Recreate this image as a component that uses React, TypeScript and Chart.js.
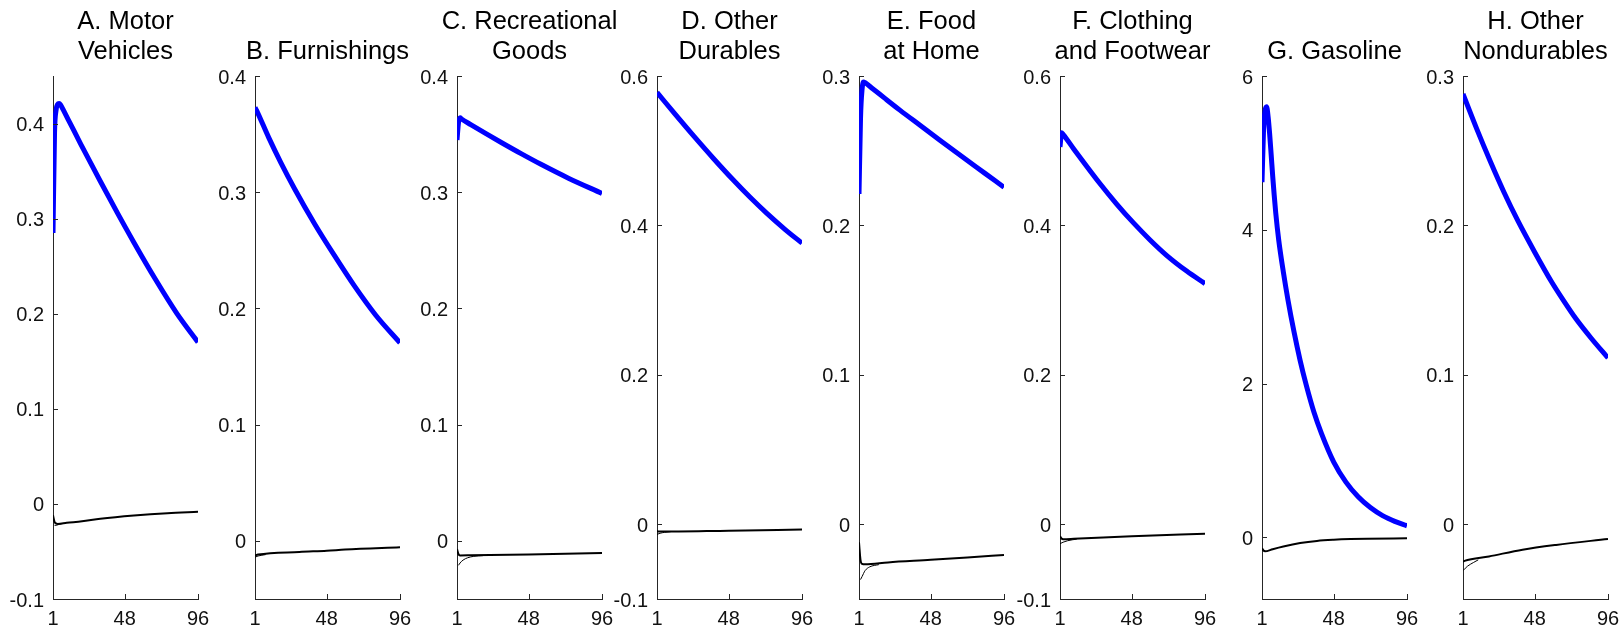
import React, { useEffect, useRef } from 'react';
import { Chart, registerables } from 'chart.js';

Chart.register(...registerables);

// ---------------- data ----------------
const xTicks = [1, 48, 96];

// A. Motor Vehicles
const titleA = ['A. Motor', 'Vehicles'];
const yTicksA = [-0.1, 0, 0.1, 0.2, 0.3, 0.4];
const yRangeA = [-0.1, 0.45];
const tBlueA = [1, 2, 3, 4, 5, 6, 8, 12, 19, 26, 32, 43, 54, 68, 82, 96];
const blueA = [0.285, 0.39, 0.414, 0.42, 0.421, 0.4195, 0.4135, 0.401, 0.379, 0.3575, 0.3393, 0.3066, 0.275, 0.2365, 0.2007, 0.17];
const tMainA = [1, 2, 3, 4, 10, 20, 32, 54, 76, 96];
const mainA = [-0.012, -0.019, -0.0205, -0.021, -0.0199, -0.0183, -0.0157, -0.0123, -0.0098, -0.0083];
const tLowA = [2, 3, 5, 8];
const lowA = [-0.0225, -0.0225, -0.0215, -0.0204];

// B. Furnishings
const titleB = ['', 'B. Furnishings'];
const yTicksB = [0, 0.1, 0.2, 0.3, 0.4];
const yRangeB = [-0.05, 0.4];
const tBlueB = [1, 2, 10, 18, 27, 40, 53, 66, 80, 96];
const blueB = [0.373, 0.3705, 0.347, 0.3253, 0.3028, 0.2729, 0.2456, 0.2196, 0.1944, 0.1704];
const tMainB = [1, 3, 30, 48, 60, 96];
const mainB = [-0.0125, -0.0118, -0.0095, -0.0085, -0.0075, -0.0055];
const tLowB = [1, 3, 8];
const lowB = [-0.014, -0.013, -0.0118];

// C. Recreational Goods
const titleC = ['C. Recreational', 'Goods'];
const yTicksC = [0, 0.1, 0.2, 0.3, 0.4];
const yRangeC = [-0.05, 0.4];
const tBlueC = [1, 2, 3, 4, 10, 20, 30, 43, 56, 74, 96];
const blueC = [0.345, 0.36, 0.364, 0.363, 0.3582, 0.3504, 0.3428, 0.3332, 0.324, 0.3121, 0.299];
const tMainC = [1, 2, 3, 10, 48, 96];
const mainC = [-0.007, -0.0115, -0.0125, -0.0124, -0.0117, -0.0105];
const tLowC = [2, 3, 5, 8, 12, 18];
const lowC = [-0.021, -0.019, -0.0165, -0.0145, -0.0133, -0.0127];

// D. Other Durables
const titleD = ['D. Other', 'Durables'];
const yTicksD = [-0.1, 0, 0.2, 0.4, 0.6];
const yRangeD = [-0.1, 0.6];
const tBlueD = [1, 13, 25, 38, 51, 62, 73, 85, 96];
const blueD = [0.578, 0.5486, 0.5198, 0.4896, 0.4607, 0.4376, 0.4161, 0.3945, 0.3763];
const tMainD = [1, 2, 48, 96];
const mainD = [-0.009, -0.0098, -0.0085, -0.007];
const tLowD = [1, 3, 6, 10];
const lowD = [-0.0135, -0.012, -0.0108, -0.0099];

// E. Food at Home
const titleE = ['E. Food', 'at Home'];
const yTicksE = [0, 0.1, 0.2, 0.3];
const yRangeE = [-0.05, 0.3];
const tBlueE = [1, 2, 3, 4, 5, 10, 18, 28, 41, 54, 72, 84, 96];
const blueE = [0.221, 0.272, 0.291, 0.296, 0.2955, 0.2915, 0.285, 0.277, 0.267, 0.257, 0.2435, 0.2345, 0.2255];
const tMainE = [1, 2, 3, 5, 20, 48, 72, 96];
const mainE = [-0.012, -0.024, -0.0265, -0.0268, -0.0255, -0.0238, -0.0222, -0.0205];
const tLowE = [2, 3, 5, 8, 14];
const lowE = [-0.037, -0.035, -0.031, -0.0285, -0.027];

// F. Clothing and Footwear
const titleF = ['F. Clothing', 'and Footwear'];
const yTicksF = [-0.1, 0, 0.2, 0.4, 0.6];
const yRangeF = [-0.1, 0.6];
const tBlueF = [1, 2, 3, 10, 27, 38, 49, 60, 71, 84, 96];
const blueF = [0.505, 0.524, 0.522, 0.5024, 0.4565, 0.429, 0.4037, 0.3806, 0.3597, 0.3389, 0.3221];
const tMainF = [1, 2, 3, 10, 48, 96];
const mainF = [-0.016, -0.019, -0.02, -0.0195, -0.016, -0.0125];
const tLowF = [1, 3, 6, 12];
const lowF = [-0.026, -0.024, -0.022, -0.0198];

// G. Gasoline
const titleG = ['', 'G. Gasoline'];
const yTicksG = [0, 2, 4, 6];
const yRangeG = [-0.8, 6];
const tBlueG = [1, 2, 3, 4, 5, 6, 7, 8, 9, 10, 12, 15, 18, 22, 26, 30, 35, 40, 48, 56, 64, 72, 80, 88, 96];
const blueG = [4.62, 5.3, 5.55, 5.6, 5.47, 5.25, 4.98, 4.7, 4.45, 4.22, 3.86, 3.45, 3.09, 2.67, 2.3, 1.98, 1.63, 1.35, 0.98, 0.72, 0.53, 0.39, 0.285, 0.21, 0.152];
const tMainG = [1, 2, 3, 8, 15, 26, 37, 48, 59, 70, 96];
const mainG = [-0.14, -0.17, -0.18, -0.152, -0.117, -0.073, -0.045, -0.03, -0.021, -0.016, -0.01];
const tLowG = [1, 2, 3];
const lowG = [-0.15, -0.175, -0.18];

// H. Other Nondurables
const titleH = ['H. Other', 'Nondurables'];
const yTicksH = [0, 0.1, 0.2, 0.3];
const yRangeH = [-0.05, 0.3];
const tBlueH = [1, 10, 19, 28, 37, 48, 59, 67, 75, 85, 96];
const blueH = [0.288, 0.2646, 0.2426, 0.2219, 0.203, 0.1821, 0.1623, 0.1495, 0.1375, 0.1245, 0.1113];
const tMainH = [1, 2, 18, 40, 62, 96];
const mainH = [-0.025, -0.0245, -0.0215, -0.017, -0.0138, -0.0098];
const tLowH = [1, 4, 8, 11];
const lowH = [-0.031, -0.028, -0.0255, -0.0238];

const panels = [
  { title: titleA, yTicks: yTicksA, yRange: yRangeA, blue: [tBlueA, blueA], main: [tMainA, mainA], low: [tLowA, lowA] },
  { title: titleB, yTicks: yTicksB, yRange: yRangeB, blue: [tBlueB, blueB], main: [tMainB, mainB], low: [tLowB, lowB] },
  { title: titleC, yTicks: yTicksC, yRange: yRangeC, blue: [tBlueC, blueC], main: [tMainC, mainC], low: [tLowC, lowC] },
  { title: titleD, yTicks: yTicksD, yRange: yRangeD, blue: [tBlueD, blueD], main: [tMainD, mainD], low: [tLowD, lowD] },
  { title: titleE, yTicks: yTicksE, yRange: yRangeE, blue: [tBlueE, blueE], main: [tMainE, mainE], low: [tLowE, lowE] },
  { title: titleF, yTicks: yTicksF, yRange: yRangeF, blue: [tBlueF, blueF], main: [tMainF, mainF], low: [tLowF, lowF] },
  { title: titleG, yTicks: yTicksG, yRange: yRangeG, blue: [tBlueG, blueG], main: [tMainG, mainG], low: [tLowG, lowG] },
  { title: titleH, yTicks: yTicksH, yRange: yRangeH, blue: [tBlueH, blueH], main: [tMainH, mainH], low: [tLowH, lowH] },
];

// ---------------- layout / style ----------------
const PLOT_LEFTS = [53, 255, 457, 657, 859, 1060, 1262, 1463];
const PLOT_W = 145;
const PLOT_TOP = 76;
const PLOT_BOTTOM = 599;
const PAD_L = 60;
const PAD_R = 60;
const CANVAS_H = 628;
const CANVAS_W = PAD_L + PLOT_W + PAD_R;
const FONT_FAMILY = '"Liberation Sans", Arial, Helvetica, sans-serif';
const AXIS_COLOR = '#262626';
const TEXT_COLOR = '#111111';
const BLUE = '#0000ff';
const TITLE_BASELINES = [29, 58.5];

const panelTitle = {
  id: 'panelTitle',
  afterDraw(chart: any, _args: any, opts: any) {
    const { ctx, chartArea } = chart;
    const cx = (chartArea.left + chartArea.right) / 2;
    ctx.save();
    ctx.font = `25.5px ${FONT_FAMILY}`;
    ctx.fillStyle = '#000';
    ctx.textAlign = 'center';
    ctx.textBaseline = 'alphabetic';
    (opts.lines || []).forEach((line: string, i: number) => {
      if (line) ctx.fillText(line, cx, TITLE_BASELINES[i]);
    });
    ctx.restore();
  },
};

const inwardTicks = {
  id: 'inwardTicks',
  afterDraw(chart: any) {
    const { ctx, chartArea, scales } = chart;
    const len = 5;
    ctx.save();
    ctx.strokeStyle = AXIS_COLOR;
    ctx.lineWidth = 1;
    ctx.beginPath();
    scales.x.ticks.forEach((t: any) => {
      const px = Math.round(scales.x.getPixelForValue(t.value)) + 0.5;
      ctx.moveTo(px, chartArea.bottom);
      ctx.lineTo(px, chartArea.bottom - len);
    });
    scales.y.ticks.forEach((t: any) => {
      const py = Math.round(scales.y.getPixelForValue(t.value)) + 0.5;
      ctx.moveTo(chartArea.left, py);
      ctx.lineTo(chartArea.left + len, py);
    });
    ctx.stroke();
    ctx.restore();
  },
};

const toPts = (t: number[], v: number[]) => t.map((x, i) => ({ x, y: v[i] }));

function Panel({ p, left }: { p: any; left: number }) {
  const ref = useRef<HTMLCanvasElement>(null);
  useEffect(() => {
    if (!ref.current) return;
    const lineBase = {
      pointRadius: 0,
      pointHoverRadius: 0,
      fill: false,
      cubicInterpolationMode: 'monotone' as const,
      borderJoinStyle: 'round' as const,
    };
    const chart = new Chart(ref.current, {
      type: 'line',
      data: {
        datasets: [
          { ...lineBase, data: toPts(p.low[0], p.low[1]), borderColor: '#000', borderWidth: 1 },
          { ...lineBase, data: toPts(p.main[0], p.main[1]), borderColor: '#000', borderWidth: 2 },
          { ...lineBase, data: toPts(p.blue[0], p.blue[1]), borderColor: BLUE, borderWidth: 5 },
        ],
      },
      options: {
        responsive: false,
        animation: false,
        devicePixelRatio: 1,
        events: [],
        layout: { padding: { top: PLOT_TOP, right: PAD_R, left: 0, bottom: 0 } },
        plugins: {
          legend: { display: false },
          tooltip: { enabled: false },
          title: { display: false },
          panelTitle: { lines: p.title },
        } as any,
        scales: {
          x: {
            type: 'linear',
            min: 1,
            max: 96,
            afterBuildTicks: (scale: any) => {
              scale.ticks = xTicks.map((v) => ({ value: v }));
            },
            afterFit: (scale: any) => {
              scale.height = CANVAS_H - PLOT_BOTTOM;
            },
            grid: { display: true, drawOnChartArea: false, drawTicks: false },
            border: { display: true, color: AXIS_COLOR, width: 1 },
            ticks: {
              autoSkip: false,
              maxRotation: 0,
              padding: 8,
              color: TEXT_COLOR,
              font: { family: FONT_FAMILY, size: 20 },
              callback: (v: any) => String(v),
            },
          },
          y: {
            type: 'linear',
            min: p.yRange[0],
            max: p.yRange[1],
            afterBuildTicks: (scale: any) => {
              scale.ticks = p.yTicks.map((v: number) => ({ value: v }));
            },
            afterFit: (scale: any) => {
              scale.width = PAD_L;
            },
            grid: { display: true, drawOnChartArea: false, drawTicks: false },
            border: { display: true, color: AXIS_COLOR, width: 1 },
            ticks: {
              autoSkip: false,
              padding: 9,
              labelOffset: 2,
              color: TEXT_COLOR,
              font: { family: FONT_FAMILY, size: 20 },
              callback: (v: any) => String(v),
            },
          },
        },
      } as any,
      plugins: [panelTitle, inwardTicks],
    });
    return () => chart.destroy();
  }, [p]);
  return (
    <canvas
      ref={ref}
      width={CANVAS_W}
      height={CANVAS_H}
      style={{ position: 'absolute', left: left - PAD_L, top: 0, width: CANVAS_W, height: CANVAS_H }}
    />
  );
}

export default function App() {
  return (
    <div style={{ position: 'absolute', left: 0, top: 0, width: 1621, height: 628, background: '#fff', overflow: 'hidden' }}>
      {panels.map((p, i) => (
        <Panel key={i} p={p} left={PLOT_LEFTS[i]} />
      ))}
    </div>
  );
}
